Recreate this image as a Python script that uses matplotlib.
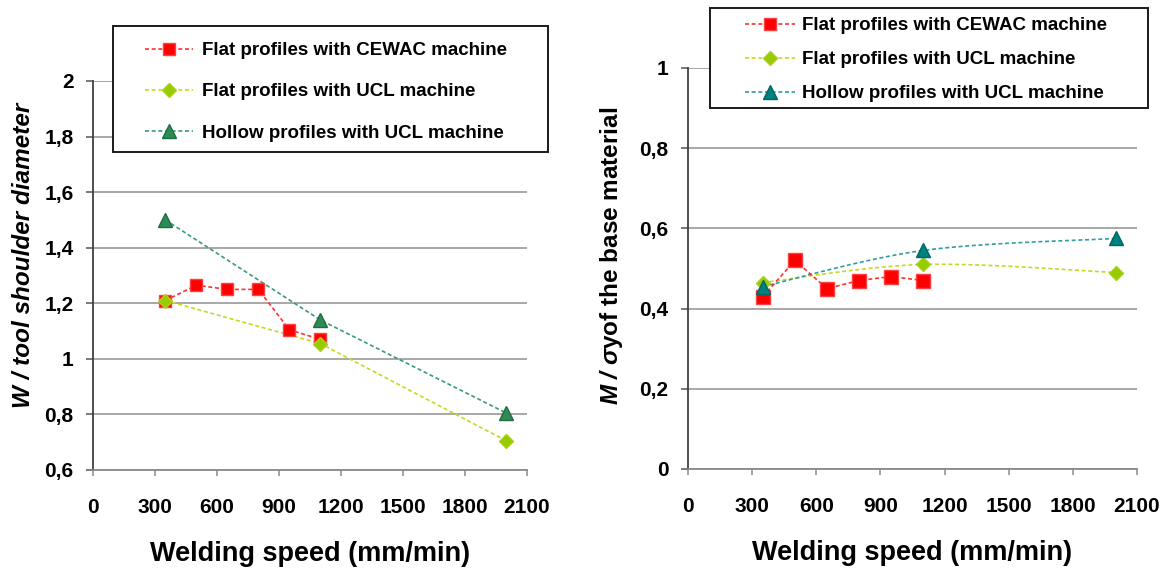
import matplotlib
matplotlib.use("Agg")
import matplotlib.pyplot as plt
import numpy as np
from matplotlib.lines import Line2D
from matplotlib.patches import Rectangle
from matplotlib.ticker import FuncFormatter, MultipleLocator

plt.rcParams["font.family"] = ["Liberation Sans", "DejaVu Sans"]
plt.rcParams["mathtext.fontset"] = "custom"
plt.rcParams["mathtext.rm"] = "Liberation Sans"
plt.rcParams["mathtext.bf"] = "Liberation Sans:bold"
plt.rcParams["mathtext.it"] = "Liberation Sans:italic"
plt.rcParams["mathtext.bfit"] = "Liberation Sans:bold:italic"

# ---- data ----
series_labels = ["Flat profiles with CEWAC machine",
                 "Flat profiles with UCL machine",
                 "Hollow profiles with UCL machine"]

cewac_speed = [350, 500, 650, 800, 950, 1100]
ucl_speed = [350, 1100, 2000]

# left panel: weld width / tool shoulder diameter
w_cewac_flat = [1.21, 1.265, 1.25, 1.25, 1.105, 1.07]
w_ucl_flat = [1.21, 1.055, 0.705]
w_ucl_hollow = [1.50, 1.14, 0.805]

# right panel: M / sigma_y of the base material
m_cewac_flat = [0.43, 0.52, 0.45, 0.47, 0.48, 0.47]
m_ucl_flat = [0.465, 0.51, 0.49]
m_ucl_hollow = [0.455, 0.545, 0.575]

x_ticks = [0, 300, 600, 900, 1200, 1500, 1800, 2100]

# ---- styles ----
RED = "#ff0000"
RED_LINE = "#ff3030"
LIME = "#99cc00"
LIME_LINE = "#c8d820"
DGREEN = "#2e8b57"
DGREEN_EDGE = "#1f6e3e"
DGREEN_LINE = "#3a9a78"
TEAL = "#008080"
TEAL_EDGE = "#006666"
TEAL_LINE = "#2f9ea0"
DASH = (0, (2.4, 1.6))

W, H = 1172, 568
fig = plt.figure(figsize=(W / 100, H / 100), dpi=100)


def fig_rect(x0, y0, x1, y1):
    """Pixel box (top-left origin) -> figure-fraction rect."""
    return [x0 / W, 1 - y1 / H, (x1 - x0) / W, (y1 - y0) / H]


ax1 = fig.add_axes(fig_rect(93, 81, 527, 470))
ax2 = fig.add_axes(fig_rect(688, 68, 1137, 469))


def comma(v, pos):
    s = f"{v:.1f}".rstrip("0").rstrip(".")
    return s.replace(".", ",")


def style_axes(ax, ylim, ystep):
    ax.set_xlim(0, 2100)
    ax.set_ylim(*ylim)
    ax.set_xticks(x_ticks)
    ax.yaxis.set_major_locator(MultipleLocator(ystep))
    ax.yaxis.set_major_formatter(FuncFormatter(comma))
    for s in ("top", "right"):
        ax.spines[s].set_visible(False)
    ax.spines["left"].set_color("#404040")
    ax.spines["left"].set_linewidth(1.3)
    ax.spines["bottom"].set_color("#8a8a8a")
    ax.spines["bottom"].set_linewidth(1.3)
    ax.tick_params(axis="y", direction="out", length=5, width=1.1,
                   color="#555555", pad=9, labelsize=15)
    ax.tick_params(axis="x", direction="out", length=4, width=1.1,
                   color="#8a8a8a", pad=16, labelsize=15)
    for lab in ax.get_xticklabels() + ax.get_yticklabels():
        lab.set_fontweight("bold")
    ax.grid(axis="y", color="#9a9a9a", linewidth=1.2)
    ax.set_axisbelow(True)
    ax.set_xlabel("Welding speed (mm/min)", fontsize=19.5,
                  fontweight="bold", labelpad=17.5)


def smooth(ax, xs, ys, n=40):
    """Bezier smoothing through the points, computed in pixel-like space."""
    bb = ax.get_position()
    sx = bb.width * W / (ax.get_xlim()[1] - ax.get_xlim()[0])
    sy = bb.height * H / (ax.get_ylim()[1] - ax.get_ylim()[0])
    P = np.column_stack([np.asarray(xs, float) * sx, np.asarray(ys, float) * sy])
    ext = np.vstack([P[0], P, P[-1]])
    out = []
    t = np.linspace(0, 1, n)[:, None]
    for i in range(len(P) - 1):
        p0, p3 = P[i], P[i + 1]
        p1 = p0 + (ext[i + 2] - ext[i]) / 6
        p2 = p3 - (ext[i + 3] - ext[i + 1]) / 6
        seg = ((1 - t) ** 3) * p0 + 3 * ((1 - t) ** 2) * t * p1 \
            + 3 * (1 - t) * t ** 2 * p2 + t ** 3 * p3
        out.append(seg if i == 0 else seg[1:])
    out = np.vstack(out)
    return out[:, 0] / sx, out[:, 1] / sy


# ---- left panel ----
style_axes(ax1, (0.6, 2.0), 0.2)
ax1.plot(ucl_speed, w_ucl_hollow, ls=DASH, lw=1.2, color=DGREEN_LINE, zorder=3)
ax1.plot(ucl_speed, w_ucl_flat, ls=DASH, lw=1.2, color=LIME_LINE, zorder=3)
ax1.plot(cewac_speed, w_cewac_flat, ls=DASH, lw=1.2, color=RED_LINE, zorder=3)
ax1.plot(cewac_speed, w_cewac_flat, ls="none", marker="s", ms=9,
         mfc=RED, mec="#ff4040", zorder=4)
ax1.plot(ucl_speed, w_ucl_hollow, ls="none", marker="^", ms=9.5,
         mfc=DGREEN, mec=DGREEN_EDGE, zorder=5)
ax1.plot(ucl_speed, w_ucl_flat, ls="none", marker="D", ms=7,
         mfc=LIME, mec="#a8d020", zorder=6)
ax1.set_ylabel("W / tool shoulder diameter", fontsize=17.5, fontweight="bold",
               fontstyle="italic")
ax1.yaxis.set_label_coords(-0.134, 0.553)

# ---- right panel ----
style_axes(ax2, (0, 1.0), 0.2)
hx, hy = smooth(ax2, ucl_speed, m_ucl_hollow)
fx, fy = smooth(ax2, ucl_speed, m_ucl_flat)
ax2.plot(fx, fy, ls=DASH, lw=1.2, color=LIME_LINE, zorder=3)
ax2.plot(hx, hy, ls=DASH, lw=1.2, color=TEAL_LINE, zorder=3)
ax2.plot(cewac_speed, m_cewac_flat, ls=DASH, lw=1.2, color=RED_LINE, zorder=3)
ax2.plot(cewac_speed, m_cewac_flat, ls="none", marker="s", ms=9.5,
         mfc=RED, mec="#ff4040", zorder=4)
ax2.plot(ucl_speed, m_ucl_flat, ls="none", marker="D", ms=7,
         mfc=LIME, mec="#a8d020", zorder=5)
ax2.plot(ucl_speed, m_ucl_hollow, ls="none", marker="^", ms=9.5,
         mfc=TEAL, mec=TEAL_EDGE, zorder=6)
ax2.set_ylabel(r"$\mathbfit{M\ /}$ $\boldsymbol{\sigma}$yof the base material",
               fontsize=17.5, fontweight="bold")
ax2.yaxis.set_label_coords(-0.140, 0.531)


# ---- legends ----
def handles(third_face, third_edge, third_line):
    return [
        Line2D([], [], ls=DASH, lw=1.2, color=RED_LINE, marker="s", ms=9,
               mfc=RED, mec="#ff4040"),
        Line2D([], [], ls=DASH, lw=1.2, color=LIME_LINE, marker="D", ms=7,
               mfc=LIME, mec="#a8d020"),
        Line2D([], [], ls=DASH, lw=1.2, color=third_line, marker="^", ms=9.5,
               mfc=third_face, mec=third_edge),
    ]


def legend_frame(x0, y0, x1, y1):
    rect = Rectangle((x0 / W, 1 - y1 / H), (x1 - x0) / W, (y1 - y0) / H,
                     transform=fig.transFigure, facecolor="white",
                     edgecolor="#1a1a1a", linewidth=1.4, zorder=10)
    fig.patches.append(rect)


legend_frame(113, 26, 548, 152)
leg1 = fig.legend(handles(DGREEN, DGREEN_EDGE, DGREEN_LINE), series_labels,
                  loc="upper left", bbox_to_anchor=(145 / W, 1 - 42 / H),
                  frameon=False, borderpad=0, borderaxespad=0,
                  labelspacing=1.29, handlelength=2.56, handletextpad=0.48,
                  numpoints=1, prop={"weight": "bold", "size": 13.5})
leg1.set_zorder(11)

legend_frame(710, 8, 1148, 108)
leg2 = fig.legend(handles(TEAL, TEAL_EDGE, TEAL_LINE), series_labels,
                  loc="upper left", bbox_to_anchor=(745 / W, 1 - 17 / H),
                  frameon=False, borderpad=0, borderaxespad=0,
                  labelspacing=0.9, handlelength=2.67, handletextpad=0.37,
                  numpoints=1, prop={"weight": "bold", "size": 13.5})
leg2.set_zorder(11)

fig.savefig("out.png", dpi=100)
